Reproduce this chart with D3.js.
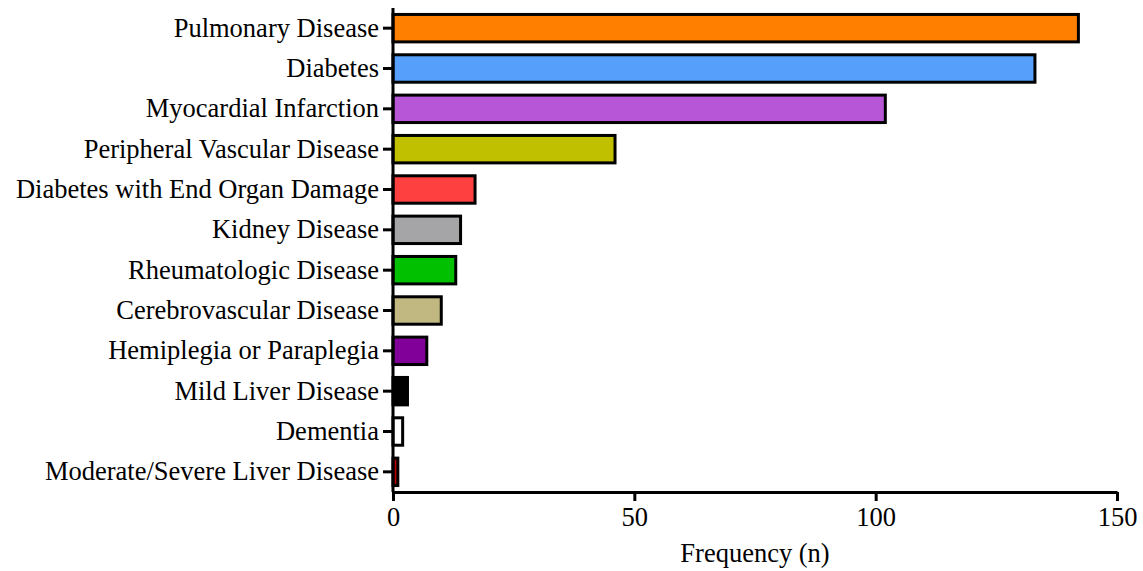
<!DOCTYPE html>
<html>
<head>
<meta charset="utf-8">
<script src="https://cdn.jsdelivr.net/npm/d3@7"></script>
<style>
  body { margin: 0; background: #fff; }
  text { font-family: "Liberation Serif", "Times New Roman", serif; }
</style>
</head>
<body>
<div id="chart"></div>
<script>
var categories = ["Pulmonary Disease", "Diabetes", "Myocardial Infarction", "Peripheral Vascular Disease",
    "Diabetes with End Organ Damage", "Kidney Disease", "Rheumatologic Disease", "Cerebrovascular Disease",
    "Hemiplegia or Paraplegia", "Mild Liver Disease", "Dementia", "Moderate/Severe Liver Disease"];
var counts = [142, 133, 102, 46, 17, 14, 13, 10, 7, 3, 2, 1];
var barColors = ["#ff8000", "#56a0fb", "#b856d8", "#c0c000", "#ff4040", "#a5a5a8", "#00c000", "#c0b880",
    "#800099", "#000000", "#ffffff", "#c00000"];
var xTicks = [0, 50, 100, 150];

var width = 1143, height = 571;
var margin = {left: 393, right: 26, top: 8, bottom: 79};
var fontSize = "26.5px";

var svg = d3.select("#chart")
    .append("svg")
    .attr("width", width)
    .attr("height", height);

var x = d3.scaleLinear()
    .domain([0, 150])
    .range([margin.left, width - margin.right]);

var y = d3.scaleBand()
    .domain(categories)
    .range([margin.top, height - margin.bottom])
    .paddingInner(0.32)
    .paddingOuter(0.16);

// bars
svg.selectAll("rect.bar")
    .data(categories)
    .enter()
    .append("rect")
    .attr("class", "bar")
    .attr("x", x(0))
    .attr("y", function(d) { return y(d); })
    .attr("width", function(d, i) { return x(counts[i]) - x(0); })
    .attr("height", y.bandwidth())
    .style("fill", function(d, i) { return barColors[i]; })
    .style("stroke", "#000")
    .style("stroke-width", 3);

// y axis
var yAxis = svg.append("g")
    .attr("transform", "translate(" + x(0) + ",0)")
    .call(d3.axisLeft(y).tickSize(10).tickPadding(4).tickSizeOuter(0));
yAxis.select(".domain").style("stroke-width", 3).attr("d", "M0," + margin.top + "V" + (height - margin.bottom));
yAxis.selectAll(".tick line").style("stroke-width", 3);
yAxis.selectAll(".tick text")
    .style("font-size", fontSize)
    .style("font-family", "Liberation Serif")
    .attr("fill", "#000");

// x axis
var xAxis = svg.append("g")
    .attr("transform", "translate(0," + (height - margin.bottom) + ")")
    .call(d3.axisBottom(x).tickValues(xTicks).tickSize(9).tickPadding(6).tickSizeOuter(0));
xAxis.select(".domain").style("stroke-width", 3);
xAxis.selectAll(".tick line").style("stroke-width", 3);
xAxis.selectAll(".tick text")
    .style("font-size", fontSize)
    .style("font-family", "Liberation Serif")
    .attr("fill", "#000");

svg.append("text")
    .attr("x", (x(0) + x(150)) / 2)
    .attr("y", 562)
    .attr("text-anchor", "middle")
    .style("font-size", fontSize)
    .text("Frequency (n)");
</script>
</body>
</html>
